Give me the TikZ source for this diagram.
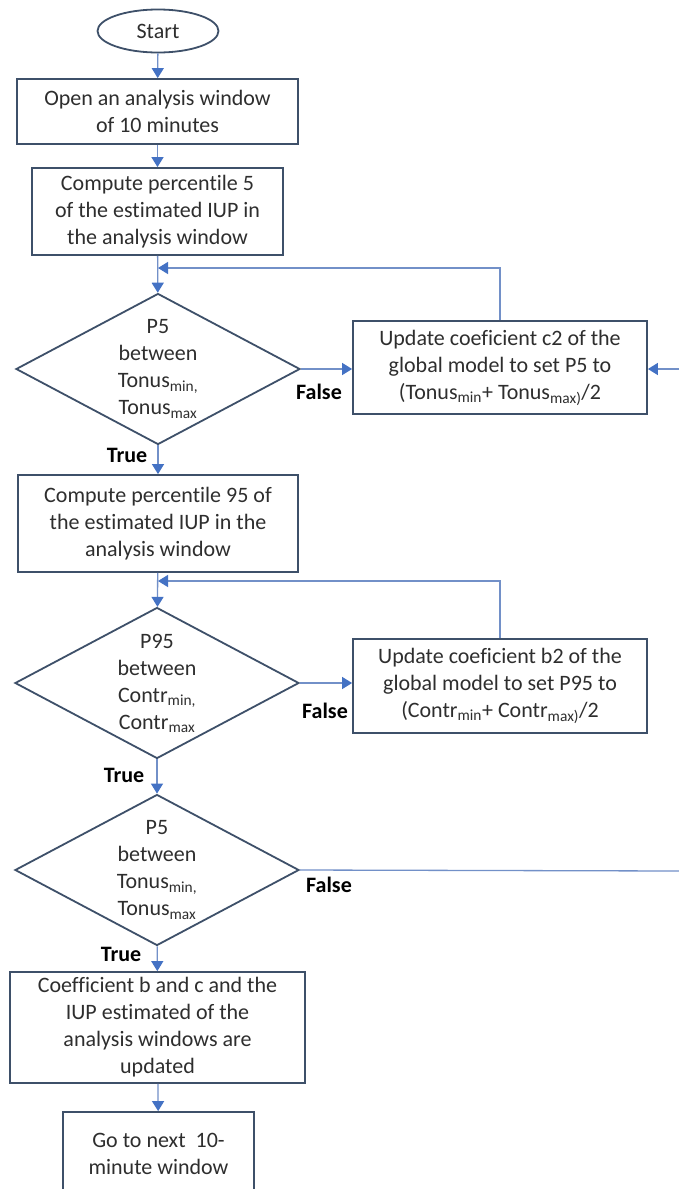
\documentclass[tikz,border=0pt]{standalone}
\usepackage{fontspec}
\setmainfont[Ligatures=NoCommon]{Carlito}
\usetikzlibrary{shapes.geometric,arrows.meta}

\definecolor{boxline}{HTML}{3E5069}
\definecolor{tipblue}{HTML}{4472C4}
\definecolor{linkblue}{HTML}{7290C8}
\definecolor{txt}{HTML}{2E2E2E}

\tikzset{
  every node/.style={font=\fontsize{22}{27}\selectfont, text=txt},
  proc/.style={draw=boxline, line width=1.8pt, rectangle, align=center, inner sep=2pt},
  term/.style={draw=boxline, line width=1.8pt, ellipse, minimum width=121pt, minimum height=43pt, inner sep=0pt},
  dec/.style={draw=boxline, line width=1.8pt, diamond, minimum width=284pt, minimum height=151pt, inner sep=0pt},
  dectext/.style={align=center},
  tag/.style={font=\fontsize{22}{27}\selectfont\bfseries, text=black},
  flow/.style={draw=linkblue, line width=1.3pt, -{Triangle[length=10pt,width=12pt,color=tipblue]}},
  link/.style={draw=linkblue, line width=1.3pt}
}

\begin{document}
\begin{tikzpicture}[x=1pt,y=-1pt]
\useasboundingbox[fill=white] (0,0) rectangle (678,1189);

% main column
\node[term] (start) at (158,31) {Start};
\node[proc, minimum width=281pt, minimum height=65pt] (open) at (157.5,111.5) {Open an analysis window\\of 10 minutes};
\node[proc, minimum width=251pt, minimum height=87pt] (pfive) at (157.5,211.5) {Compute percentile 5\\of the estimated IUP in\\the analysis window};
\node[dec] (dtone) at (158,369) {};
\node[dectext] (dtonet) at (dtone.center) {P5\\between\\Tonus\textsubscript{min,}\\Tonus\textsubscript{max}};
\node[proc, minimum width=280pt, minimum height=97pt] (pnine) at (158,523.5) {Compute percentile 95 of\\the estimated IUP in the\\analysis window};
\node[dec] (dcontr) at (157,683) {};
\node[dectext] (dcontrt) at (dcontr.center) {P95\\between\\Contr\textsubscript{min,}\\Contr\textsubscript{max}};
\node[dec] (dcheck) at (157,870) {};
\node[dectext] (dcheckt) at (dcheck.center) {P5\\between\\Tonus\textsubscript{min,}\\Tonus\textsubscript{max}};
\node[proc, minimum width=295pt, minimum height=111pt] (done) at (157.5,1027.5) {Coefficient b and c and the\\IUP estimated of the\\analysis windows are\\updated};
\node[proc, minimum width=191pt, minimum height=84pt] (next) at (158.5,1154) {Go to next~~10-\\minute window};

% update boxes
\node[proc, minimum width=294pt, minimum height=93pt] (updc) at (500,367.5) {Update coeficient c2 of the\\global model to set P5 to\\(Tonus\textsubscript{min}+ Tonus\textsubscript{max)}/2};
\node[proc, minimum width=294pt, minimum height=94pt] (updb) at (500,686) {Update coeficient b2 of the\\global model to set P95 to\\(Contr\textsubscript{min}+ Contr\textsubscript{max)}/2};

% junctions
\coordinate (jone) at (158,268);
\coordinate (jtwo) at (158,581);
\coordinate (inright) at (680,369);
\coordinate (outright) at (680,871);

% connectors
\draw[flow] (start) -- (open);
\draw[flow] (open) -- (pfive);
\draw[flow] (pfive) -- (dtone);
\draw[flow] (updc.north) |- (jone);
\draw[flow] (dtone.east) -- (dtone.east -| updc.west);
\draw[flow] (inright) -- (inright -| updc.east);
\draw[flow] (dtone) -- (pnine);
\draw[flow] (pnine) -- (dcontr);
\draw[flow] (updb.north) |- (jtwo);
\draw[flow] (dcontr.east) -- (dcontr.east -| updb.west);
\draw[flow] (dcontr) -- (dcheck);
\draw[link] (dcheck.east) -- (outright);
\draw[flow] (dcheck) -- (done);
\draw[flow] (done) -- (next);

% labels
\node[tag] (fone) at (319,392) {False};
\node[tag] (tone) at (127,455) {True};
\node[tag] (ftwo) at (325,711) {False};
\node[tag] (ttwo) at (124,775) {True};
\node[tag] (fthree) at (329,885) {False};
\node[tag] (tthree) at (121,954) {True};
\end{tikzpicture}
\end{document}
